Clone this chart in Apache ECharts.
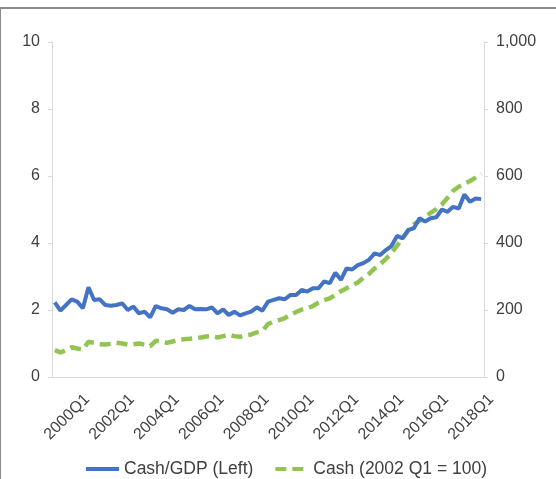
<!DOCTYPE html>
<html>
<head>
<meta charset="utf-8">
<script src="https://cdn.jsdelivr.net/npm/echarts@6/dist/echarts.min.js"></script>
<style>
html, body { margin: 0; padding: 0; background: #fff; }
#main-chart { width: 556px; height: 479px; }
</style>
</head>
<body>
<div id="main-chart"></div>
<script>
var quarters = [
    '1999Q1', '1999Q2', '1999Q3', '1999Q4', '2000Q1', '2000Q2', '2000Q3', '2000Q4',
    '2001Q1', '2001Q2', '2001Q3', '2001Q4', '2002Q1', '2002Q2', '2002Q3', '2002Q4',
    '2003Q1', '2003Q2', '2003Q3', '2003Q4', '2004Q1', '2004Q2', '2004Q3', '2004Q4',
    '2005Q1', '2005Q2', '2005Q3', '2005Q4', '2006Q1', '2006Q2', '2006Q3', '2006Q4',
    '2007Q1', '2007Q2', '2007Q3', '2007Q4', '2008Q1', '2008Q2', '2008Q3', '2008Q4',
    '2009Q1', '2009Q2', '2009Q3', '2009Q4', '2010Q1', '2010Q2', '2010Q3', '2010Q4',
    '2011Q1', '2011Q2', '2011Q3', '2011Q4', '2012Q1', '2012Q2', '2012Q3', '2012Q4',
    '2013Q1', '2013Q2', '2013Q3', '2013Q4', '2014Q1', '2014Q2', '2014Q3', '2014Q4',
    '2015Q1', '2015Q2', '2015Q3', '2015Q4', '2016Q1', '2016Q2', '2016Q3', '2016Q4',
    '2017Q1', '2017Q2', '2017Q3', '2017Q4', '2018Q1'
];

// Cash/GDP, left axis
var cashGdp = [
    2.23, 1.98, 2.15, 2.32, 2.25, 2.05, 2.68, 2.30, 2.32, 2.15,
    2.13, 2.15, 2.20, 2.00, 2.10, 1.90, 1.95, 1.78, 2.12, 2.05,
    2.02, 1.92, 2.02, 2.00, 2.12, 2.02, 2.03, 2.02, 2.08, 1.90,
    2.02, 1.85, 1.95, 1.84, 1.90, 1.95, 2.08, 1.98, 2.25, 2.30,
    2.35, 2.32, 2.45, 2.45, 2.60, 2.55, 2.65, 2.65, 2.85, 2.80,
    3.11, 2.90, 3.24, 3.21, 3.34, 3.40, 3.50, 3.69, 3.64, 3.79,
    3.91, 4.21, 4.14, 4.39, 4.44, 4.74, 4.64, 4.74, 4.77, 5.00,
    4.93, 5.08, 5.03, 5.45, 5.23, 5.33, 5.31
];

// Cash index (2002 Q1 = 100), right axis
var cashIndex = [
    80, 73, 80, 89, 85, 82, 105, 102, 98, 97,
    99, 102, 100, 97, 98, 100, 97, 92, 108, 106,
    102, 106, 111, 113, 114, 116, 118, 121, 122, 118,
    122, 126, 122, 120, 124, 127, 133, 138, 158, 166,
    170, 176, 186, 194, 201, 205, 212, 222, 229, 235,
    245, 256, 265, 274, 282, 296, 308, 324, 337, 352,
    370, 392, 415, 437, 456, 466, 478, 490, 501, 515,
    535, 556, 568, 577, 585, 595, 606
];

var seriesNames = ['Cash/GDP (Left)', 'Cash (2002 Q1 = 100)'];

var mainChart;

window.onload = function () {
    chartInit();
};

function chartInit() {
    mainChart = echarts.init(document.getElementById('main-chart'));

    var fontFam = '"Liberation Sans", Arial, sans-serif';
    var axisGray = '#D9D9D9';
    var textGray = '#404040';

    var mainOpt = {
        animation: false,
        textStyle: { fontFamily: fontFam },
        graphic: [{
            type: 'line',
            shape: { x1: 0, y1: 8, x2: 556, y2: 8 },
            style: { stroke: '#8c8c8c', lineWidth: 2 }
        }, {
            type: 'line',
            shape: { x1: 0.5, y1: 8, x2: 0.5, y2: 479 },
            style: { stroke: '#8c8c8c', lineWidth: 1 }
        }],
        grid: {
            left: 52,
            right: 72,
            top: 42,
            bottom: 102
        },
        legend: {
            left: 79,
            top: 455,
            itemWidth: 33,
            itemHeight: 14,
            itemGap: 20,
            itemStyle: { opacity: 0 },
            lineStyle: { width: 4 },
            textStyle: { fontSize: 17.5, color: textGray, fontFamily: fontFam },
            data: seriesNames
        },
        xAxis: {
            type: 'category',
            data: quarters,
            boundaryGap: true,
            axisLine: { lineStyle: { color: axisGray, width: 1 } },
            axisTick: { show: false },
            axisLabel: {
                rotate: 45,
                fontSize: 16,
                color: textGray,
                margin: 10,
                verticalAlign: 'top',
                padding: [6, 0, 0, 0],
                interval: function (index) {
                    return index % 8 === 4;
                }
            }
        },
        yAxis: [{
            type: 'value',
            position: 'left',
            min: 0,
            max: 10,
            interval: 2,
            splitLine: { show: false },
            axisLine: { show: true, lineStyle: { color: axisGray } },
            axisTick: { show: true, length: 4, lineStyle: { color: axisGray } },
            axisLabel: { fontSize: 16, color: textGray, margin: 12 }
        }, {
            type: 'value',
            position: 'right',
            min: 0,
            max: 1000,
            interval: 200,
            splitLine: { show: false },
            axisLine: { show: true, lineStyle: { color: axisGray } },
            axisTick: { show: true, length: 4, lineStyle: { color: axisGray } },
            axisLabel: {
                fontSize: 16,
                color: textGray,
                margin: 12,
                formatter: function (v) {
                    return v.toLocaleString('en-US');
                }
            }
        }],
        series: [{
            name: seriesNames[0],
            type: 'line',
            yAxisIndex: 0,
            data: cashGdp,
            symbol: 'none',
            z: 3,
            lineStyle: { color: '#4472C4', width: 4 },
            itemStyle: { color: '#4472C4' }
        }, {
            name: seriesNames[1],
            type: 'line',
            yAxisIndex: 1,
            data: cashIndex,
            symbol: 'none',
            z: 2,
            lineStyle: { color: '#92C453', width: 4.5, type: [11, 6] },
            itemStyle: { color: '#92C453' }
        }]
    };

    mainChart.setOption(mainOpt);
}
</script>
</body>
</html>
